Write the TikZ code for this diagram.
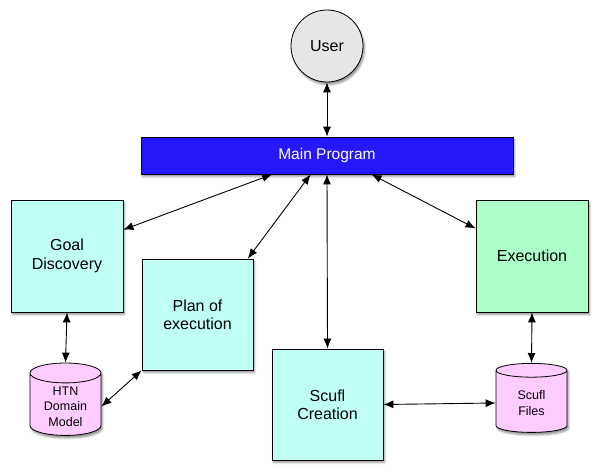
\documentclass[tikz,border=0pt]{standalone}
\usepackage{fontspec}
\setmainfont{Liberation Sans}
\usetikzlibrary{arrows.meta}
\usetikzlibrary{shapes.geometric}
\usetikzlibrary{shadows.blur}

\definecolor{userfill}{RGB}{230,230,230}
\definecolor{mainblue}{RGB}{38,24,250}
\definecolor{taskcyan}{RGB}{192,255,246}
\definecolor{taskgreen}{RGB}{172,255,200}
\definecolor{storepink}{RGB}{255,204,255}

\begin{document}
\begin{tikzpicture}[x=1pt,y=-1pt,
    every node/.style={draw,line width=0.8pt,align=center,
      blur shadow={shadow xshift=1.5pt,shadow yshift=-2.5pt,shadow blur radius=2pt,shadow opacity=45}},
    task/.style={rectangle,minimum width=112pt,minimum height=112pt,fill=taskcyan,
      font=\fontsize{16}{18.4}\selectfont},
    store/.style={cylinder,shape border rotate=90,aspect=0.4,minimum width=71pt,minimum height=69pt,
      fill=storepink,font=\fontsize{12.5}{15.5}\selectfont},
    link/.style={{Latex[length=10pt,width=8pt]}-{Latex[length=10pt,width=8pt]},line width=0.9pt}]
  \useasboundingbox (0,0) rectangle (600,473);

  \node[circle,minimum size=72pt,fill=userfill,font=\fontsize{16}{18.4}\selectfont] (user) at (327,46) {User};
  \node[rectangle,minimum width=372pt,minimum height=37pt,fill=mainblue,text=white,
        font=\fontsize{15.5}{18}\selectfont] (main) at (327,155.5) {Main Program};

  \node[task] (goal) at (67,256) {Goal\\Discovery};
  \node[task,minimum size=111pt] (plan) at (197.5,314.5) {Plan of\\execution};
  \node[task,minimum size=111pt] (creation) at (327.5,404.5) {Scufl\\Creation};
  \node[task,fill=taskgreen] (exec) at (532,256) {Execution};

  \node[store] (htn) at (65.5,406.5) {HTN\\Domain\\Model};
  \node[store] (files) at (531.5,403) {Scufl\\Files};

  \draw[link] (user) -- (main);
  \draw[link] (main.199) -- (goal.25);
  \draw[link] (main.229) -- (plan.48);
  \draw[link] (main.south) -- (creation.north);
  \draw[link] (main.-23) -- (exec.154);
  \draw[link] (goal.south) -- (htn.north);
  \draw[link] (plan.south west) -- (htn.east);
  \draw[link] (creation.east) -- (files.west);
  \draw[link] (exec.south) -- (files.north);
\end{tikzpicture}
\end{document}
